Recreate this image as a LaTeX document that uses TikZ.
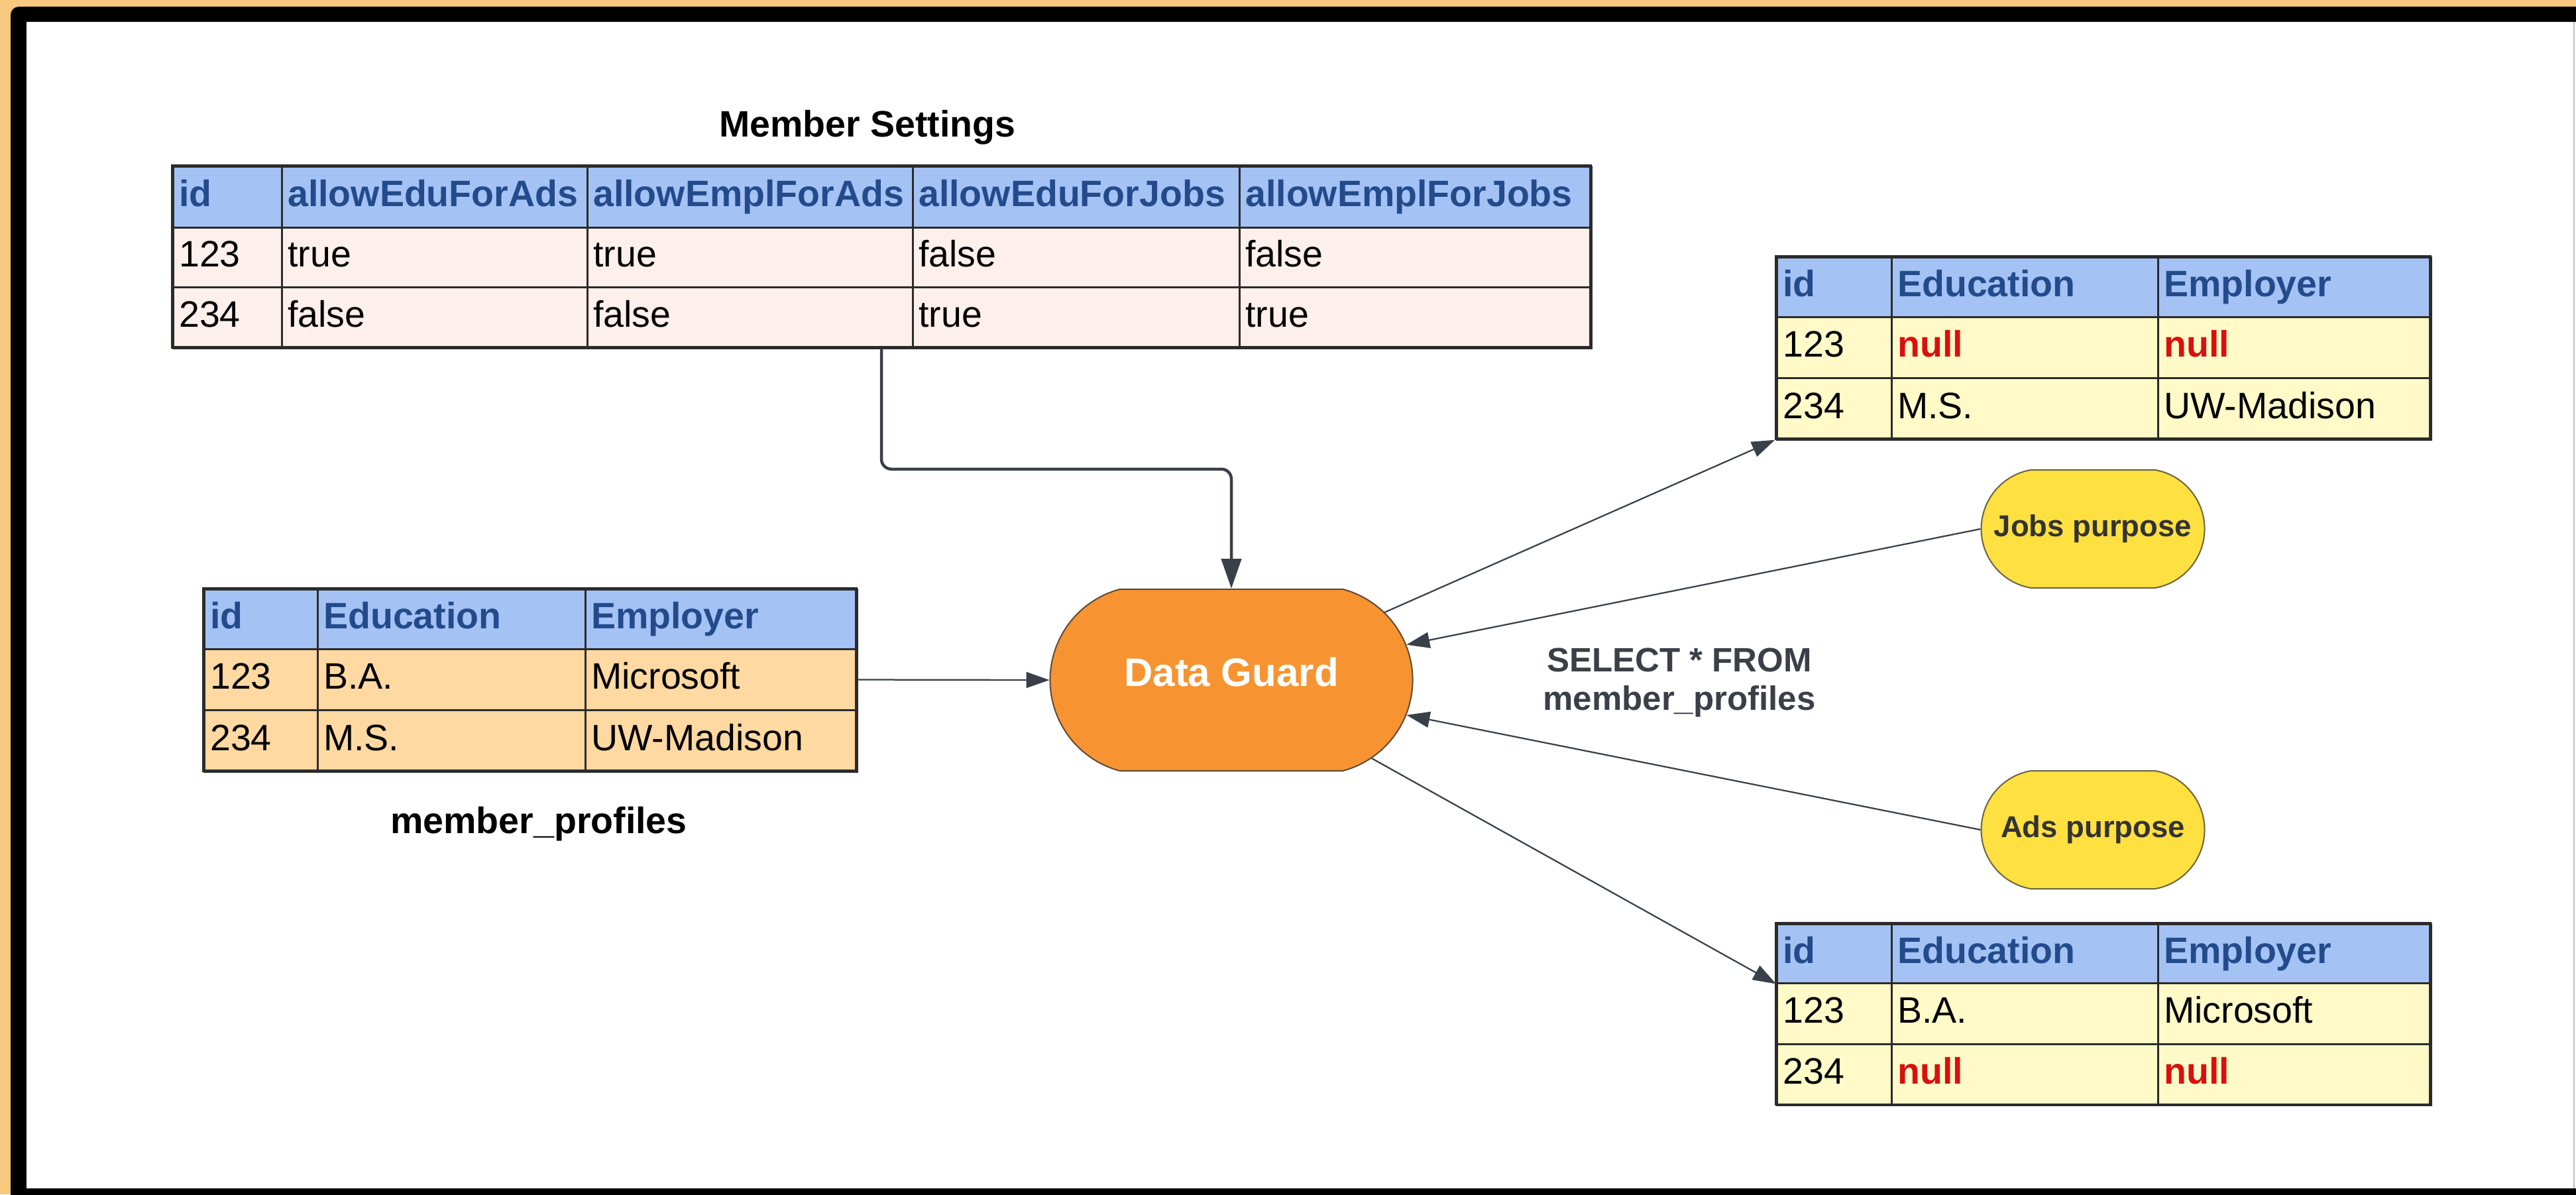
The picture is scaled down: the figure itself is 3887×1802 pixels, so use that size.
\documentclass[tikz,border=0pt]{standalone}
\usepackage{fontspec}
\setmainfont{Liberation Sans}
\usetikzlibrary{arrows.meta,shapes.misc}

\definecolor{pageorange}{HTML}{F8C87F}
\definecolor{headblue}{HTML}{A4C2F4}
\definecolor{headtext}{HTML}{234B8C}
\definecolor{rowpink}{HTML}{FDEFEC}
\definecolor{rowpeach}{HTML}{FFD9A1}
\definecolor{rowcream}{HTML}{FFFAC8}
\definecolor{celledge}{HTML}{2B2B2B}
\definecolor{guardorange}{HTML}{F79431}
\definecolor{guardedge}{HTML}{5E4A38}
\definecolor{purposeyellow}{HTML}{FFE041}
\definecolor{purposeedge}{HTML}{6B6442}
\definecolor{flowgray}{HTML}{3A4049}
\definecolor{querygray}{HTML}{3B3F47}
\definecolor{nullred}{HTML}{D9100F}

% one table cell: name, style, x1, y1, x2, y2, text
\newcommand\tcell[7]{%
  \pgfmathsetmacro\cellw{(#5-#3)*0.2}%
  \pgfmathsetmacro\cellh{(#6-#4)*0.2}%
  \pgfmathsetmacro\celltw{\cellw-3.6}%
  \node[#2, anchor=north west, minimum width=\cellw pt, minimum height=\cellh pt,
        text width=\celltw pt] (#1) at (#3,#4) {\mbox{#7}};}
\newcommand\nullval{\textcolor{nullred}{\bfseries null}}

\tikzset{
  cellbox/.style={draw=celledge, line width=0.5pt, inner xsep=1.8pt, inner ysep=0pt,
    align=left, text height=8pt, text depth=2.3pt, font=\fontsize{11.1}{13}\selectfont},
  headcell/.style={cellbox, fill=headblue, text=headtext, font=\bfseries\fontsize{11.1}{13}\selectfont},
  pinkcell/.style={cellbox, fill=rowpink},
  peachcell/.style={cellbox, fill=rowpeach},
  creamcell/.style={cellbox, fill=rowcream},
  tframe/.style={draw=celledge, line width=0.7pt, inner sep=0pt},
  title/.style={font=\bfseries\fontsize{11.1}{13}\selectfont, text=black, inner sep=0pt},
  guard/.style={rounded rectangle, rounded rectangle arc length=150, minimum width=109.4pt,
    minimum height=54.8pt, inner sep=0pt, fill=guardorange, draw=guardedge, line width=0.4pt,
    text=white, text height=8.6pt, text depth=4.8pt, font=\bfseries\fontsize{12}{14}\selectfont},
  purpose/.style={rounded rectangle, rounded rectangle arc length=160, minimum width=67.4pt,
    minimum height=35.6pt, inner sep=0pt, fill=purposeyellow, draw=purposeedge, line width=0.4pt,
    text=black!80, font=\bfseries\fontsize{9.1}{11}\selectfont},
  flow/.style={draw=flowgray, line width=0.45pt, -{Triangle[length=7pt,width=4.8pt]}},
  mainflow/.style={draw=flowgray, line width=0.9pt, rounded corners=3pt,
    -{Triangle[length=9pt,width=6pt]}},
}

\begin{document}
\begin{tikzpicture}[x=0.2pt, y=-0.2pt]
\useasboundingbox (0,0) rectangle (3887,1802);

% page frame: orange margin, black border open to the right, white sheet
\begin{scope}
  \clip (0,0) rectangle (3887,1802);
  \fill[pageorange] (0,0) rectangle (3887,1802);
  \fill[black, rounded corners=2.5pt] (16,10) rectangle (3900,1815);
  \fill[white] (40,33) rectangle (3900,1793);
  \draw[black!25, line width=0.3pt] (3884,33) -- (3884,1793);
\end{scope}

% Member Settings table
\node[title] (mstitle) at (1309,192) {Member Settings};
\tcell{ms-h1}{headcell}{260}{250}{424}{342}{id}
\tcell{ms-h2}{headcell}{424}{250}{885}{342}{allowEduForAds}
\tcell{ms-h3}{headcell}{885}{250}{1376}{342}{allowEmplForAds}
\tcell{ms-h4}{headcell}{1376}{250}{1869}{342}{allowEduForJobs}
\tcell{ms-h5}{headcell}{1869}{250}{2400}{342}{allowEmplForJobs}
\tcell{ms-a1}{pinkcell}{260}{342}{424}{432}{123}
\tcell{ms-a2}{pinkcell}{424}{342}{885}{432}{true}
\tcell{ms-a3}{pinkcell}{885}{342}{1376}{432}{true}
\tcell{ms-a4}{pinkcell}{1376}{342}{1869}{432}{false}
\tcell{ms-a5}{pinkcell}{1869}{342}{2400}{432}{false}
\tcell{ms-b1}{pinkcell}{260}{432}{424}{524}{234}
\tcell{ms-b2}{pinkcell}{424}{432}{885}{524}{false}
\tcell{ms-b3}{pinkcell}{885}{432}{1376}{524}{false}
\tcell{ms-b4}{pinkcell}{1376}{432}{1869}{524}{true}
\tcell{ms-b5}{pinkcell}{1869}{432}{2400}{524}{true}
\node[tframe, minimum width=428pt, minimum height=54.8pt] (ms) at (1330,387) {};

% member_profiles table
\tcell{mp-h1}{headcell}{307}{888}{478}{978}{id}
\tcell{mp-h2}{headcell}{478}{888}{882}{978}{Education}
\tcell{mp-h3}{headcell}{882}{888}{1292}{978}{Employer}
\tcell{mp-a1}{peachcell}{307}{978}{478}{1070}{123}
\tcell{mp-a2}{peachcell}{478}{978}{882}{1070}{B.A.}
\tcell{mp-a3}{peachcell}{882}{978}{1292}{1070}{Microsoft}
\tcell{mp-b1}{peachcell}{307}{1070}{478}{1163}{234}
\tcell{mp-b2}{peachcell}{478}{1070}{882}{1163}{M.S.}
\tcell{mp-b3}{peachcell}{882}{1070}{1292}{1163}{UW-Madison}
\node[tframe, minimum width=197pt, minimum height=55pt] (mp) at (799.5,1025.5) {};
\node[title] (mptitle) at (813,1243) {member\_profiles};

% result for the jobs purpose
\tcell{jt-h1}{headcell}{2680}{387}{2853}{477}{id}
\tcell{jt-h2}{headcell}{2853}{387}{3255}{477}{Education}
\tcell{jt-h3}{headcell}{3255}{387}{3667}{477}{Employer}
\tcell{jt-a1}{creamcell}{2680}{477}{2853}{569}{123}
\tcell{jt-a2}{creamcell}{2853}{477}{3255}{569}{\nullval}
\tcell{jt-a3}{creamcell}{3255}{477}{3667}{569}{\nullval}
\tcell{jt-b1}{creamcell}{2680}{569}{2853}{662}{234}
\tcell{jt-b2}{creamcell}{2853}{569}{3255}{662}{M.S.}
\tcell{jt-b3}{creamcell}{3255}{569}{3667}{662}{UW-Madison}
\node[tframe, minimum width=197.4pt, minimum height=55pt] (jt) at (3173.5,524.5) {};

% result for the ads purpose
\tcell{at-h1}{headcell}{2680}{1393}{2853}{1482}{id}
\tcell{at-h2}{headcell}{2853}{1393}{3255}{1482}{Education}
\tcell{at-h3}{headcell}{3255}{1393}{3667}{1482}{Employer}
\tcell{at-a1}{creamcell}{2680}{1482}{2853}{1574}{123}
\tcell{at-a2}{creamcell}{2853}{1482}{3255}{1574}{B.A.}
\tcell{at-a3}{creamcell}{3255}{1482}{3667}{1574}{Microsoft}
\tcell{at-b1}{creamcell}{2680}{1574}{2853}{1666}{234}
\tcell{at-b2}{creamcell}{2853}{1574}{3255}{1666}{\nullval}
\tcell{at-b3}{creamcell}{3255}{1574}{3667}{1666}{\nullval}
\node[tframe, minimum width=197.4pt, minimum height=54.8pt] (at) at (3173.5,1529.5) {};

% guard and purposes
\node[guard] (dg) at (1858,1026) {Data Guard};
\node[purpose] (jobs) at (3158,798) {Jobs purpose};
\node[purpose] (ads) at (3158,1252) {Ads purpose};
\node[align=center, text=querygray, inner sep=0pt,
      font=\bfseries\fontsize{10.2}{11.6}\selectfont] (query) at (2534,1030)
      {SELECT * FROM\\member\_profiles};

% connectors
\draw[mainflow] (ms.south) -- ++(0,182) -| (dg.north);
\draw[flow] (mp.east) -- (dg.west);
\draw[flow] (dg) -- (jt.south west);
\draw[flow] (jobs.west) -- (dg);
\draw[flow] (ads.west) -- (dg);
\draw[flow] (dg) -- (at-h1.south west);
\end{tikzpicture}
\end{document}
